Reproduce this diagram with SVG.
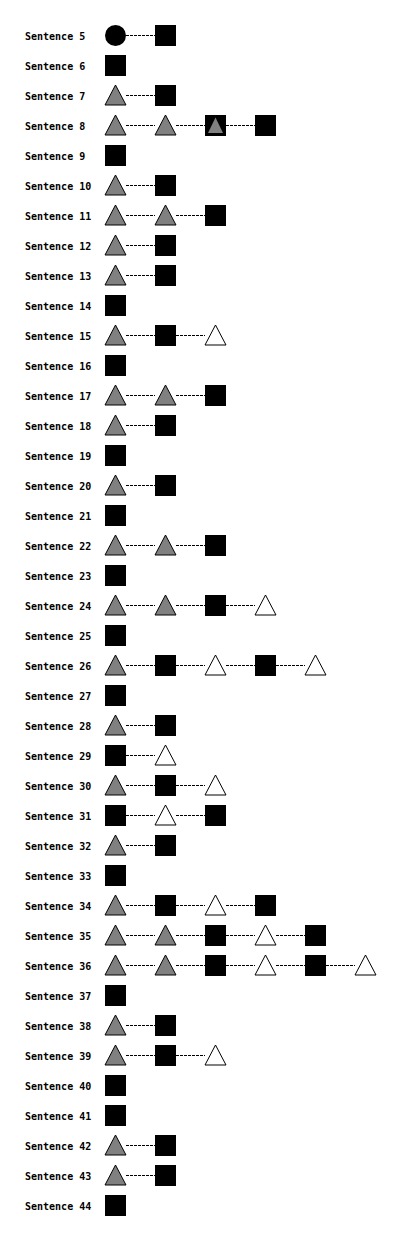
<svg xmlns="http://www.w3.org/2000/svg" xmlns:xlink="http://www.w3.org/1999/xlink" width="400" height="1240" viewBox="0 0 400 1240">
<style>
.lbl{font-family:"DejaVu Sans Mono","Liberation Mono",monospace;font-weight:bold;font-size:10px;fill:#000}
.con{fill:none;stroke:#000;stroke-width:1;stroke-dasharray:3,1}
</style>
<defs>
<rect id="sq" x="-10" y="-10" width="21" height="21" fill="#000"/>
<polygon id="tg" points="0.5,-10 -10,10 11,10" fill="#808080" stroke="#000" stroke-width="1"/>
<polygon id="tw" points="0.5,-10 -10,10 11,10" fill="#fff" stroke="#000" stroke-width="1"/>
<circle id="ci" cx="0.5" cy="0.5" r="10.5" fill="#000"/>
<g id="sx"><rect x="-10" y="-10" width="21" height="21" fill="#000"/><polygon points="0.5,-7.5 -7,8 8,8" fill="#808080"/></g>
</defs>
<rect width="400" height="1240" fill="#fff"/>
<g id="connectors" class="con">
<path d="M126 35.5H155"/>
<path d="M126 95.5H155"/>
<path d="M126 125.5H155M176 125.5H205M226 125.5H255"/>
<path d="M126 185.5H155"/>
<path d="M126 215.5H155M176 215.5H205"/>
<path d="M126 245.5H155"/>
<path d="M126 275.5H155"/>
<path d="M126 335.5H155M176 335.5H205"/>
<path d="M126 395.5H155M176 395.5H205"/>
<path d="M126 425.5H155"/>
<path d="M126 485.5H155"/>
<path d="M126 545.5H155M176 545.5H205"/>
<path d="M126 605.5H155M176 605.5H205M226 605.5H255"/>
<path d="M126 665.5H155M176 665.5H205M226 665.5H255M276 665.5H305"/>
<path d="M126 725.5H155"/>
<path d="M126 755.5H155"/>
<path d="M126 785.5H155M176 785.5H205"/>
<path d="M126 815.5H155M176 815.5H205"/>
<path d="M126 845.5H155"/>
<path d="M126 905.5H155M176 905.5H205M226 905.5H255"/>
<path d="M126 935.5H155M176 935.5H205M226 935.5H255M276 935.5H305"/>
<path d="M126 965.5H155M176 965.5H205M226 965.5H255M276 965.5H305M326 965.5H355"/>
<path d="M126 1025.5H155"/>
<path d="M126 1055.5H155M176 1055.5H205"/>
<path d="M126 1145.5H155"/>
<path d="M126 1175.5H155"/>
</g>
<g id="labels" class="lbl">
<text x="25" y="40">Sentence 5</text>
<text x="25" y="70">Sentence 6</text>
<text x="25" y="100">Sentence 7</text>
<text x="25" y="130">Sentence 8</text>
<text x="25" y="160">Sentence 9</text>
<text x="25" y="190">Sentence 10</text>
<text x="25" y="220">Sentence 11</text>
<text x="25" y="250">Sentence 12</text>
<text x="25" y="280">Sentence 13</text>
<text x="25" y="310">Sentence 14</text>
<text x="25" y="340">Sentence 15</text>
<text x="25" y="370">Sentence 16</text>
<text x="25" y="400">Sentence 17</text>
<text x="25" y="430">Sentence 18</text>
<text x="25" y="460">Sentence 19</text>
<text x="25" y="490">Sentence 20</text>
<text x="25" y="520">Sentence 21</text>
<text x="25" y="550">Sentence 22</text>
<text x="25" y="580">Sentence 23</text>
<text x="25" y="610">Sentence 24</text>
<text x="25" y="640">Sentence 25</text>
<text x="25" y="670">Sentence 26</text>
<text x="25" y="700">Sentence 27</text>
<text x="25" y="730">Sentence 28</text>
<text x="25" y="760">Sentence 29</text>
<text x="25" y="790">Sentence 30</text>
<text x="25" y="820">Sentence 31</text>
<text x="25" y="850">Sentence 32</text>
<text x="25" y="880">Sentence 33</text>
<text x="25" y="910">Sentence 34</text>
<text x="25" y="940">Sentence 35</text>
<text x="25" y="970">Sentence 36</text>
<text x="25" y="1000">Sentence 37</text>
<text x="25" y="1030">Sentence 38</text>
<text x="25" y="1060">Sentence 39</text>
<text x="25" y="1090">Sentence 40</text>
<text x="25" y="1120">Sentence 41</text>
<text x="25" y="1150">Sentence 42</text>
<text x="25" y="1180">Sentence 43</text>
<text x="25" y="1210">Sentence 44</text>
</g>
<g id="nodes">
<g id="s5-1"><use href="#ci" x="115" y="35"/></g><g id="s5-2"><use href="#sq" x="165" y="35"/></g>
<g id="s6-1"><use href="#sq" x="115" y="65"/></g>
<g id="s7-1"><use href="#tg" x="115" y="95"/></g><g id="s7-2"><use href="#sq" x="165" y="95"/></g>
<g id="s8-1"><use href="#tg" x="115" y="125"/></g><g id="s8-2"><use href="#tg" x="165" y="125"/></g><g id="s8-3"><use href="#sx" x="215" y="125"/></g><g id="s8-4"><use href="#sq" x="265" y="125"/></g>
<g id="s9-1"><use href="#sq" x="115" y="155"/></g>
<g id="s10-1"><use href="#tg" x="115" y="185"/></g><g id="s10-2"><use href="#sq" x="165" y="185"/></g>
<g id="s11-1"><use href="#tg" x="115" y="215"/></g><g id="s11-2"><use href="#tg" x="165" y="215"/></g><g id="s11-3"><use href="#sq" x="215" y="215"/></g>
<g id="s12-1"><use href="#tg" x="115" y="245"/></g><g id="s12-2"><use href="#sq" x="165" y="245"/></g>
<g id="s13-1"><use href="#tg" x="115" y="275"/></g><g id="s13-2"><use href="#sq" x="165" y="275"/></g>
<g id="s14-1"><use href="#sq" x="115" y="305"/></g>
<g id="s15-1"><use href="#tg" x="115" y="335"/></g><g id="s15-2"><use href="#sq" x="165" y="335"/></g><g id="s15-3"><use href="#tw" x="215" y="335"/></g>
<g id="s16-1"><use href="#sq" x="115" y="365"/></g>
<g id="s17-1"><use href="#tg" x="115" y="395"/></g><g id="s17-2"><use href="#tg" x="165" y="395"/></g><g id="s17-3"><use href="#sq" x="215" y="395"/></g>
<g id="s18-1"><use href="#tg" x="115" y="425"/></g><g id="s18-2"><use href="#sq" x="165" y="425"/></g>
<g id="s19-1"><use href="#sq" x="115" y="455"/></g>
<g id="s20-1"><use href="#tg" x="115" y="485"/></g><g id="s20-2"><use href="#sq" x="165" y="485"/></g>
<g id="s21-1"><use href="#sq" x="115" y="515"/></g>
<g id="s22-1"><use href="#tg" x="115" y="545"/></g><g id="s22-2"><use href="#tg" x="165" y="545"/></g><g id="s22-3"><use href="#sq" x="215" y="545"/></g>
<g id="s23-1"><use href="#sq" x="115" y="575"/></g>
<g id="s24-1"><use href="#tg" x="115" y="605"/></g><g id="s24-2"><use href="#tg" x="165" y="605"/></g><g id="s24-3"><use href="#sq" x="215" y="605"/></g><g id="s24-4"><use href="#tw" x="265" y="605"/></g>
<g id="s25-1"><use href="#sq" x="115" y="635"/></g>
<g id="s26-1"><use href="#tg" x="115" y="665"/></g><g id="s26-2"><use href="#sq" x="165" y="665"/></g><g id="s26-3"><use href="#tw" x="215" y="665"/></g><g id="s26-4"><use href="#sq" x="265" y="665"/></g><g id="s26-5"><use href="#tw" x="315" y="665"/></g>
<g id="s27-1"><use href="#sq" x="115" y="695"/></g>
<g id="s28-1"><use href="#tg" x="115" y="725"/></g><g id="s28-2"><use href="#sq" x="165" y="725"/></g>
<g id="s29-1"><use href="#sq" x="115" y="755"/></g><g id="s29-2"><use href="#tw" x="165" y="755"/></g>
<g id="s30-1"><use href="#tg" x="115" y="785"/></g><g id="s30-2"><use href="#sq" x="165" y="785"/></g><g id="s30-3"><use href="#tw" x="215" y="785"/></g>
<g id="s31-1"><use href="#sq" x="115" y="815"/></g><g id="s31-2"><use href="#tw" x="165" y="815"/></g><g id="s31-3"><use href="#sq" x="215" y="815"/></g>
<g id="s32-1"><use href="#tg" x="115" y="845"/></g><g id="s32-2"><use href="#sq" x="165" y="845"/></g>
<g id="s33-1"><use href="#sq" x="115" y="875"/></g>
<g id="s34-1"><use href="#tg" x="115" y="905"/></g><g id="s34-2"><use href="#sq" x="165" y="905"/></g><g id="s34-3"><use href="#tw" x="215" y="905"/></g><g id="s34-4"><use href="#sq" x="265" y="905"/></g>
<g id="s35-1"><use href="#tg" x="115" y="935"/></g><g id="s35-2"><use href="#tg" x="165" y="935"/></g><g id="s35-3"><use href="#sq" x="215" y="935"/></g><g id="s35-4"><use href="#tw" x="265" y="935"/></g><g id="s35-5"><use href="#sq" x="315" y="935"/></g>
<g id="s36-1"><use href="#tg" x="115" y="965"/></g><g id="s36-2"><use href="#tg" x="165" y="965"/></g><g id="s36-3"><use href="#sq" x="215" y="965"/></g><g id="s36-4"><use href="#tw" x="265" y="965"/></g><g id="s36-5"><use href="#sq" x="315" y="965"/></g><g id="s36-6"><use href="#tw" x="365" y="965"/></g>
<g id="s37-1"><use href="#sq" x="115" y="995"/></g>
<g id="s38-1"><use href="#tg" x="115" y="1025"/></g><g id="s38-2"><use href="#sq" x="165" y="1025"/></g>
<g id="s39-1"><use href="#tg" x="115" y="1055"/></g><g id="s39-2"><use href="#sq" x="165" y="1055"/></g><g id="s39-3"><use href="#tw" x="215" y="1055"/></g>
<g id="s40-1"><use href="#sq" x="115" y="1085"/></g>
<g id="s41-1"><use href="#sq" x="115" y="1115"/></g>
<g id="s42-1"><use href="#tg" x="115" y="1145"/></g><g id="s42-2"><use href="#sq" x="165" y="1145"/></g>
<g id="s43-1"><use href="#tg" x="115" y="1175"/></g><g id="s43-2"><use href="#sq" x="165" y="1175"/></g>
<g id="s44-1"><use href="#sq" x="115" y="1205"/></g>
</g>
</svg>
